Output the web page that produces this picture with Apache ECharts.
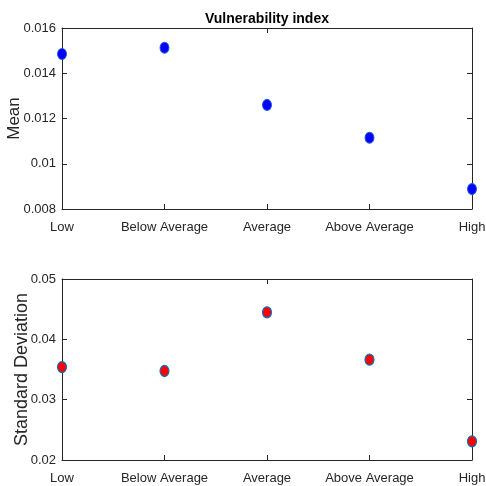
<!DOCTYPE html>
<html>
<head>
<meta charset="utf-8">
<script src="https://cdn.jsdelivr.net/npm/echarts@6/dist/echarts.min.js"></script>
<style>
  html, body { margin: 0; padding: 0; background: #fff; }
  #chart { width: 486px; height: 486px; }
</style>
</head>
<body>
<div id="chart"></div>
<script>
// Vulnerability index: mean and std by class
var categories = ['Low', 'Below Average', 'Average', 'Above Average', 'High'];
var meanValues = [0.01485, 0.01513, 0.0126, 0.01115, 0.00888];
var stdValues = [0.0354, 0.03475, 0.04447, 0.03663, 0.0231];
var meanTicks = [0.008, 0.016, 0.002];
var stdTicks = [0.02, 0.05, 0.01];

(function () {
  var ink = '#262626';
  var narrow = '"Liberation Sans Narrow", "Arial Narrow", "Liberation Sans", sans-serif';
  var wide = '"Liberation Sans", Arial, sans-serif';
  var chart = echarts.init(document.getElementById('chart'), null, { renderer: 'canvas' });

  function fmt(v) { return String(+v.toFixed(3)); }

  function xPair(gi) {
    return [{
      type: 'category', gridIndex: gi, data: categories, boundaryGap: false, position: 'bottom',
      axisLine: { lineStyle: { color: ink, width: 1 } },
      axisTick: { show: true, inside: true, length: 5, lineStyle: { color: ink } },
      axisLabel: { color: ink, fontFamily: narrow, fontSize: 13, margin: 12, interval: 0 },
      splitLine: { show: false }
    }, {
      type: 'category', gridIndex: gi, data: categories, boundaryGap: false, position: 'top',
      axisLine: { lineStyle: { color: ink, width: 1 } },
      axisTick: { show: true, inside: true, length: 5, lineStyle: { color: ink } },
      axisLabel: { show: false },
      splitLine: { show: false }
    }];
  }

  function yPair(gi, t, name, gap, nsize) {
    return [{
      type: 'value', gridIndex: gi, min: t[0], max: t[1], interval: t[2], position: 'left',
      name: name, nameLocation: 'middle', nameGap: gap, nameMoveOverlap: false,
      nameTextStyle: { color: ink, fontFamily: wide, fontSize: nsize },
      axisLine: { show: true, lineStyle: { color: ink, width: 1 } },
      axisTick: { show: true, inside: true, length: 5, lineStyle: { color: ink } },
      axisLabel: { color: ink, fontFamily: narrow, fontSize: 13, margin: 6, formatter: fmt },
      splitLine: { show: false }
    }, {
      type: 'value', gridIndex: gi, min: t[0], max: t[1], interval: t[2], position: 'right',
      axisLine: { show: true, lineStyle: { color: ink, width: 1 } },
      axisTick: { show: true, inside: true, length: 5, lineStyle: { color: ink } },
      axisLabel: { show: false },
      splitLine: { show: false }
    }];
  }

  chart.setOption({
    animation: false,
    backgroundColor: '#fff',
    title: {
      text: 'Vulnerability index', left: 200, top: 7,
      textStyle: { color: '#000', fontFamily: narrow, fontSize: 14, fontWeight: 'bold' }
    },
    grid: [
      { left: 62, right: 14, top: 28, height: 181, outerBoundsMode: 'none', containLabel: false },
      { left: 62, right: 14, top: 279, height: 181, outerBoundsMode: 'none', containLabel: false }
    ],
    xAxis: xPair(0).concat(xPair(1)),
    yAxis: yPair(0, meanTicks, 'Mean', 39, 17).concat(yPair(1, stdTicks, 'Standard Deviation', 31, 18)),
    series: [{
      type: 'scatter', xAxisIndex: 0, yAxisIndex: 0, data: meanValues,
      symbol: 'circle', symbolSize: [9, 11],
      itemStyle: { color: '#0000ff', borderColor: '#1f5fd0', borderWidth: 1, opacity: 1 }
    }, {
      type: 'scatter', xAxisIndex: 2, yAxisIndex: 2, data: stdValues,
      symbol: 'circle', symbolSize: [9, 11],
      itemStyle: { color: '#ff0000', borderColor: '#0072bd', borderWidth: 1.2, opacity: 1 }
    }]
  });
})();
</script>
</body>
</html>
